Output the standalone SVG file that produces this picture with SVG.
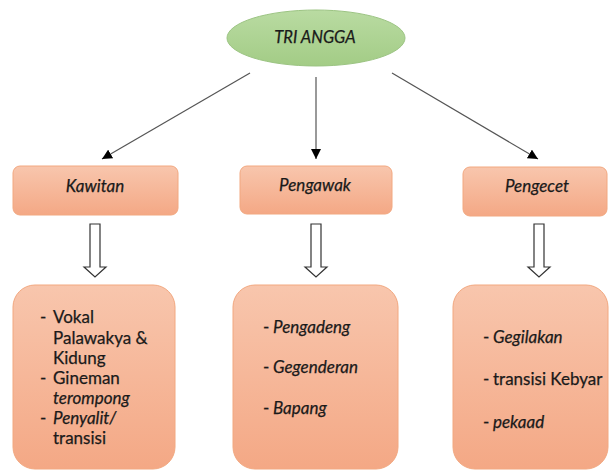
<svg xmlns="http://www.w3.org/2000/svg" width="610" height="471" viewBox="0 0 610 471">
  <defs>
    <linearGradient id="gGreen" x1="0" y1="0" x2="0" y2="1">
      <stop offset="0" stop-color="#b9dba2"/>
      <stop offset="1" stop-color="#a3cc86"/>
    </linearGradient>
    <linearGradient id="gSalmon" x1="0" y1="0" x2="0" y2="1">
      <stop offset="0" stop-color="#f8c6ad"/>
      <stop offset="1" stop-color="#f4a885"/>
    </linearGradient>
    <marker id="tri" viewBox="0 0 10 10" refX="10" refY="5" markerWidth="10" markerHeight="10" markerUnits="userSpaceOnUse" orient="auto">
      <path d="M0,0 L10,5 L0,10 Z" fill="#000"/>
    </marker>
    <path id="hollow" d="M-5,0 H5 V43 H11 L0,53 L-11,43 H-5 Z"/>
  </defs>
  <style>
    .ell { fill: url(#gGreen); stroke: #9cc483; stroke-width: 1; }
    .box { fill: url(#gSalmon); stroke: #f2a880; stroke-width: 1; }
    .t { font-family: Lato, "Open Sans", "Liberation Sans", sans-serif; font-size: 17px; fill: #1a1a1a; stroke: #1a1a1a; stroke-width: 0.25; }
    .h { font-family: Lato, "Open Sans", "Liberation Sans", sans-serif; font-size: 17px; fill: #1a1a1a; stroke: #1a1a1a; stroke-width: 0.25; font-style: italic; text-anchor: middle; }
    .i { font-style: italic; }
    .conn { stroke: #555; stroke-width: 1.2; fill: none; }
    .holl { fill: #fff; stroke: #333; stroke-width: 1.2; }
  </style>
  <rect width="610" height="471" fill="#fff"/>

  <g id="connectors">
    <line class="conn" x1="250" y1="73" x2="102" y2="159" marker-end="url(#tri)"/>
    <line class="conn" x1="316" y1="77" x2="316" y2="159" marker-end="url(#tri)"/>
    <line class="conn" x1="392" y1="73" x2="538" y2="159" marker-end="url(#tri)"/>
    <use href="#hollow" class="holl" x="95" y="224"/>
    <use href="#hollow" class="holl" x="316" y="224"/>
    <use href="#hollow" class="holl" x="539" y="224"/>
  </g>

  <g id="tri-angga">
    <ellipse class="ell" cx="316" cy="38" rx="89" ry="28"/>
    <text class="h" x="315" y="43" style="font-size:16.5px">TRI ANGGA</text>
  </g>

  <g id="kawitan">
    <rect class="box" x="13" y="166" width="165" height="49" rx="7"/>
    <text class="h" x="95" y="192">Kawitan</text>
  </g>
  <g id="pengawak">
    <rect class="box" x="240" y="166" width="152" height="48" rx="7"/>
    <text class="h" x="315" y="191">Pengawak</text>
  </g>
  <g id="pengecet">
    <rect class="box" x="463" y="167" width="144" height="49" rx="7"/>
    <text class="h" x="537" y="192">Pengecet</text>
  </g>

  <g id="kawitan-detail">
    <rect class="box" x="13" y="285" width="162" height="184" rx="22"/>
    <text class="t" x="40" y="323">-</text>
    <text class="t" x="53" y="323">Vokal</text>
    <text class="t" x="53" y="344">Palawakya &amp;</text>
    <text class="t" x="53" y="364">Kidung</text>
    <text class="t" x="40" y="384">-</text>
    <text class="t" x="53" y="384">Gineman</text>
    <text class="t i" x="53" y="404">terompong</text>
    <text class="t" x="40" y="424">-</text>
    <text class="t i" x="53" y="424">Penyalit/</text>
    <text class="t" x="53" y="444">transisi</text>
  </g>

  <g id="pengawak-detail">
    <rect class="box" x="233" y="285" width="165" height="184" rx="22"/>
    <text class="t" x="263" y="333">-</text>
    <text class="t i" x="273" y="333">Pengadeng</text>
    <text class="t" x="263" y="373">-</text>
    <text class="t i" x="273" y="373">Gegenderan</text>
    <text class="t" x="263" y="414">-</text>
    <text class="t i" x="273" y="414">Bapang</text>
  </g>

  <g id="pengecet-detail">
    <rect class="box" x="453" y="285" width="155" height="184" rx="22"/>
    <text class="t" x="483" y="343">-</text>
    <text class="t i" x="493" y="343">Gegilakan</text>
    <text class="t" x="483" y="385">-</text>
    <text class="t" x="493" y="385">transisi Kebyar</text>
    <text class="t" x="483" y="428">-</text>
    <text class="t i" x="493" y="428">pekaad</text>
  </g>
</svg>
